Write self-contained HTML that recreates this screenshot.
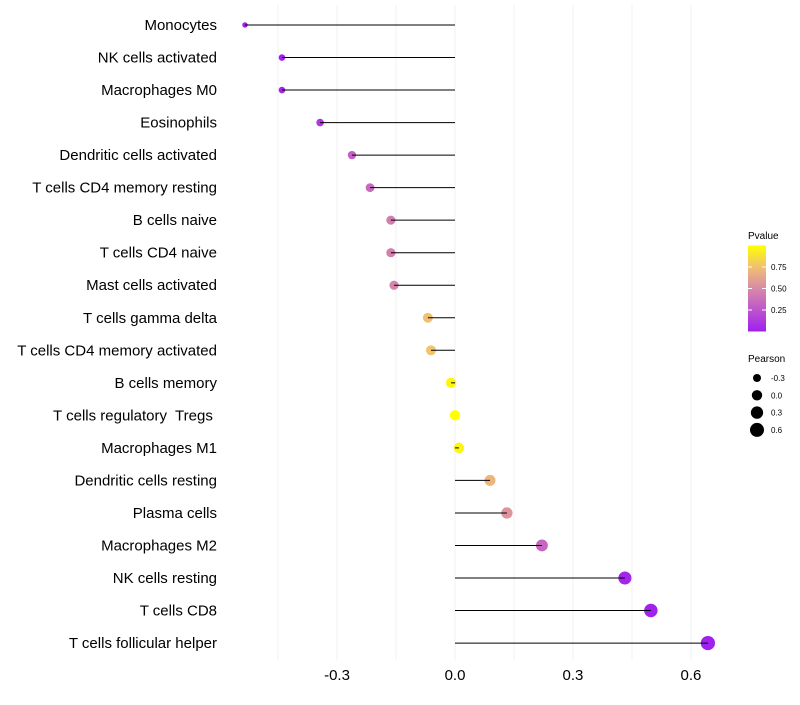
<!DOCTYPE html>
<html><head><meta charset="utf-8"><style>
body{margin:0;background:#fff;font-family:"Liberation Sans",sans-serif}
svg text{font-family:"Liberation Sans",sans-serif;white-space:pre}
</style></head><body>
<svg id="chart" width="800" height="700"></svg>
<script>
const categories=["Monocytes","NK cells activated","Macrophages M0","Eosinophils","Dendritic cells activated","T cells CD4 memory resting","B cells naive","T cells CD4 naive","Mast cells activated","T cells gamma delta","T cells CD4 memory activated","B cells memory","T cells regulatory  Tregs ","Macrophages M1","Dendritic cells resting","Plasma cells","Macrophages M2","NK cells resting","T cells CD8","T cells follicular helper"];
const pearson=[-0.534,-0.44,-0.44,-0.343,-0.262,-0.216,-0.163,-0.163,-0.155,-0.069,-0.061,-0.01,0,0.01,0.089,0.132,0.221,0.432,0.498,0.643];
const pvalue=[0.0,0.01,0.02,0.12,0.3,0.35,0.45,0.45,0.47,0.75,0.76,0.96,1.0,0.96,0.7,0.55,0.33,0.03,0.01,0.002];
const xTicks=[-0.3,0,0.3,0.6];
const xTickLabels=["-0.3","0.0","0.3","0.6"];
const gridVals=[-0.45,-0.3,-0.15,0,0.15,0.3,0.45,0.6];
const legendP=[0.25,0.5,0.75];
const legendPLabels=["0.25","0.50","0.75"];
const legendR=[-0.3,0,0.3,0.6];
const legendRLabels=["-0.3","0.0","0.3","0.6"];

const NS="http://www.w3.org/2000/svg";
const svg=document.getElementById('chart');
function el(t,a,txt){const e=document.createElementNS(NS,t);for(const k in a)e.setAttribute(k,a[k]);if(txt!==undefined)e.textContent=txt;svg.appendChild(e);return e;}
const x=v=>455+v*393.3;
const y=i=>25+i*32.53;
const r=v=>Math.sqrt(Math.max(27+36.7*v,3));
const stops=[[0,[160,32,240]],[0.5,[216,138,168]],[0.75,[240,192,112]],[1,[255,255,0]]];
function col(p){for(let i=1;i<stops.length;i++){if(p<=stops[i][0]){const a=stops[i-1],b=stops[i],t=(p-a[0])/(b[0]-a[0]);return 'rgb('+a[1].map((c,k)=>Math.round(c+(b[1][k]-c)*t)).join(',')+')';}}return 'rgb(255,255,0)';}

gridVals.forEach(v=>{const g=el('line',{x1:x(v),x2:x(v),y1:5,y2:660,stroke:'#f0f0f0','stroke-width':1});

});
xTicks.forEach((v,i)=>{const t=el('text',{x:x(v),y:680,'font-size':15,'text-anchor':'middle',fill:'#000'},xTickLabels[i]);

});
categories.forEach((c,i)=>{
const t=el('text',{x:217,y:y(i)+5,'font-size':15,'text-anchor':'end',fill:'#000'},c);


const d=el('circle',{cx:x(pearson[i]),cy:y(i),r:r(pearson[i]),fill:col(pvalue[i])});


const l=el('line',{x1:x(0),x2:x(pearson[i]),y1:y(i),y2:y(i),stroke:'#000','stroke-width':1});


});
const defs=el('defs',{});
const lg=document.createElementNS(NS,'linearGradient');lg.setAttribute('id','pg');lg.setAttribute('x1',0);lg.setAttribute('y1',1);lg.setAttribute('x2',0);lg.setAttribute('y2',0);defs.appendChild(lg);
stops.forEach(s=>{const st=document.createElementNS(NS,'stop');st.setAttribute('offset',s[0]);st.setAttribute('stop-color',col(s[0]));lg.appendChild(st);});
const lt=el('text',{x:748,y:239,'font-size':10,fill:'#000'},'Pvalue');


const bar=el('rect',{x:748,y:245.5,width:18,height:86,fill:'url(#pg)'});


const pY=p=>331.5-p*86;
legendP.forEach((p,i)=>{el('line',{x1:748,x2:752,y1:pY(p),y2:pY(p),stroke:'#fff'});el('line',{x1:762,x2:766,y1:pY(p),y2:pY(p),stroke:'#fff'});
const t=el('text',{x:771,y:pY(p)+3,'font-size':8,fill:'#000'},legendPLabels[i]);

});
const st=el('text',{x:748,y:362,'font-size':10,fill:'#000'},'Pearson');


legendR.forEach((v,i)=>{const cy=378+i*17.3;
const c=el('circle',{cx:757,cy:cy,r:r(v),fill:'#000'});


const t=el('text',{x:771,y:cy+3,'font-size':8,fill:'#000'},legendRLabels[i]);

});
</script>
</body></html>
